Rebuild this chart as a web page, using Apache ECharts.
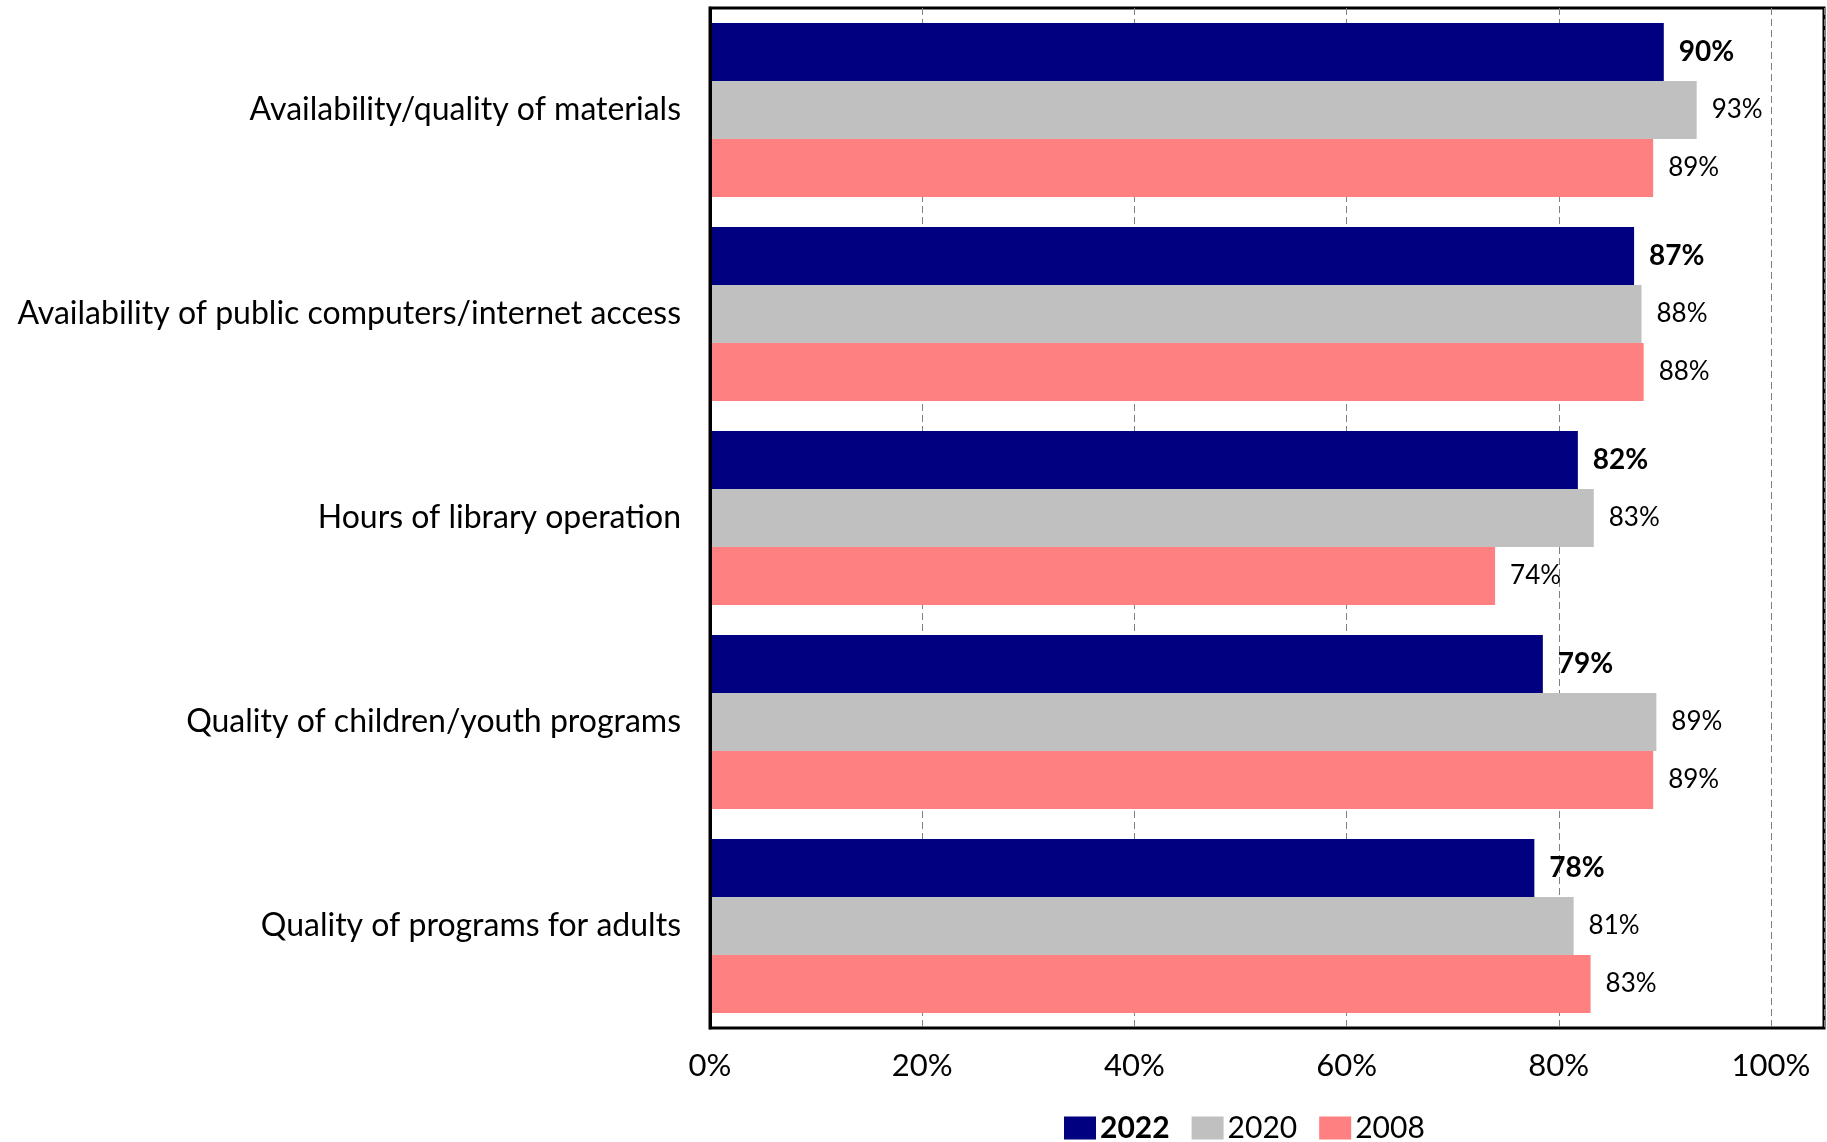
<!DOCTYPE html>
<html>
<head>
<meta charset="utf-8">
<script src="https://cdn.jsdelivr.net/npm/echarts@6/dist/echarts.min.js"></script>
<style>
html,body{margin:0;padding:0;background:#fff;}
#c{width:1827px;height:1142px;}
</style>
</head>
<body>
<div id="c"></div>
<script>
var categories = [
  'Availability/quality of materials',
  'Availability of public computers/internet access',
  'Hours of library operation',
  'Quality of children/youth programs',
  'Quality of programs for adults'
];
var seriesNames = ['2022', '2020', '2008'];
var values2022 = [89.9, 87.1, 81.8, 78.5, 77.7];
var values2020 = [93.0, 87.8, 83.3, 89.2, 81.4];
var values2008 = [88.9, 88.0, 74.0, 88.9, 83.0];
var colors = ['#000080', '#C0C0C0', '#FF8080'];
var xTicks = [0, 20, 40, 60, 80, 100];

var FONT = 'Lato, "Liberation Sans", sans-serif';
var chart = echarts.init(document.getElementById('c'));

function mkSeries(name, data, color, bold) {
  return {
    name: name,
    type: 'bar',
    data: data,
    barGap: '0%',
    barCategoryGap: '14.7%',
    itemStyle: { color: color },
    label: {
      show: true,
      position: 'right',
      distance: 15,
      fontFamily: FONT,
      fontSize: bold ? 28 : 26,
      fontWeight: bold ? 'bold' : 'normal',
      color: '#000',
      formatter: function (p) { return Math.round(p.value) + '%'; }
    }
  };
}

chart.setOption({
  animation: false,
  backgroundColor: '#fff',
  textStyle: { fontFamily: FONT },
  grid: {
    left: 710, right: 3, top: 8, bottom: 114,
    show: true, borderColor: '#000', borderWidth: 3,
    containLabel: false
  },
  legend: {
    top: 1108,
    left: 1059,
    itemWidth: 32,
    itemHeight: 23,
    itemGap: 22,
    icon: 'rect',
    data: seriesNames,
    textStyle: {
      fontFamily: FONT, fontSize: 30, color: '#000', padding: [0, 0, 0, -1],
      rich: { b: { fontFamily: FONT, fontSize: 30, fontWeight: 'bold', color: '#000' } }
    },
    formatter: function (n) { return n === '2022' ? '{b|' + n + '}' : n; }
  },
  xAxis: {
    type: 'value',
    min: 0, max: 105, interval: 20,
    axisLine: { show: false },
    axisTick: { show: false },
    splitLine: { show: true, lineStyle: { color: '#808080', type: [7, 4], width: 1 } },
    axisLabel: {
      showMaxLabel: false,
      margin: 22,
      fontFamily: FONT, fontSize: 31, color: '#000',
      formatter: function (v) { return xTicks.indexOf(v) >= 0 ? v + '%' : ''; }
    }
  },
  yAxis: {
    type: 'category',
    data: categories,
    inverse: true,
    z: 5,
    axisLine: { show: true, lineStyle: { color: '#000', width: 3 } },
    axisTick: { show: false },
    splitLine: { show: false },
    axisLabel: { margin: 29, fontFamily: FONT, fontSize: 32, color: '#000' }
  },
  series: [
    mkSeries(seriesNames[0], values2022, colors[0], true),
    mkSeries(seriesNames[1], values2020, colors[1], false),
    mkSeries(seriesNames[2], values2008, colors[2], false)
  ]
});
</script>
</body>
</html>
